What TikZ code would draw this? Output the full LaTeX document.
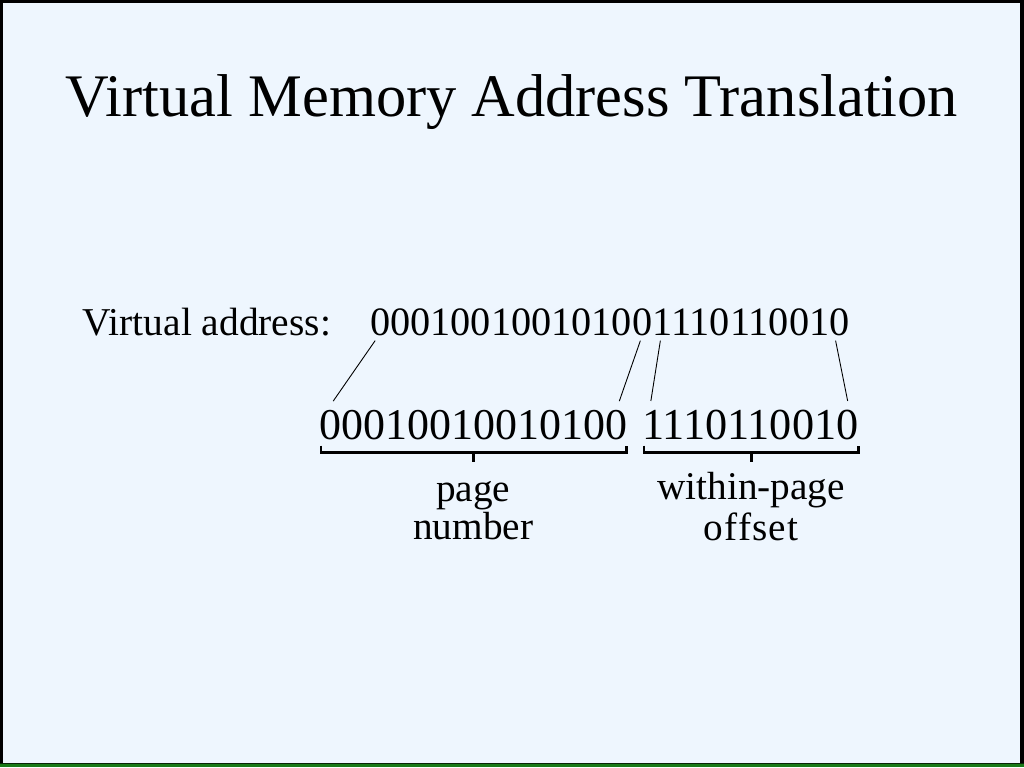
\documentclass[tikz,border=0pt]{standalone}
\usepackage{fontspec}
\setmainfont{Liberation Serif}
\usetikzlibrary{positioning,calc}
\definecolor{slidebg}{HTML}{EEF6FE}
\definecolor{slidegreen}{HTML}{187A18}
\tikzset{
  bits/.style={inner sep=0pt, anchor=base west},
  lbl/.style={inner sep=0pt, align=center, font=\fontsize{39.3}{38}\selectfont},
  wire/.style={line width=0.9pt},
  brace/.style={line width=2.6pt}
}

\begin{document}
\begin{tikzpicture}[x=1pt,y=-1pt]
% slide
\fill[black] (0,0) rectangle (1024,768);
\fill[slidebg] (3,3) rectangle (1020,764);
\fill[slidegreen] (0,764) rectangle (1024,768);
\draw[black!70!slidegreen, line width=1pt] (0,764.5) -- (1024,764.5);
\useasboundingbox (0,0) rectangle (1024,768);

\node[inner sep=0pt, anchor=base, font=\fontsize{60.5}{72}\selectfont] (title) at (512,117) {Virtual Memory Address Translation};

% virtual address
\node[bits, font=\fontsize{39.5}{40}\selectfont] (vlabel) at (82,336) {Virtual address:};
\node[bits, font=\fontsize{40.3}{40}\selectfont] (tpage) at (370,336) {00010010010100};
\node[bits, font=\fontsize{40.3}{40}\selectfont] (toff) at (tpage.base east) {1110110010};

% split address
\node[bits, font=\fontsize{44}{44}\selectfont] (bpage) at (319,440) {00010010010100};
\node[bits, font=\fontsize{44.3}{44}\selectfont] (boff) at (642,440) {1110110010};

\draw[wire] ($(tpage.base west)+(5,5)$) -- ($(bpage.north west)+(14,-9)$);
\draw[wire] ($(tpage.base east)+(-12,5)$) -- ($(bpage.north east)+(-8,-9)$);
\draw[wire] ($(toff.base west)+(8,5)$) -- ($(boff.north west)+(9,-9)$);
\draw[wire] ($(toff.base east)+(-14,5)$) -- ($(boff.north east)+(-11,-9)$);

% brackets
\draw[brace] ($(bpage.base west)+(2,6)$) -- ++(0,7) -| ($(bpage.base east)+(-1,6)$);
\draw[brace] ($(bpage.base)+(0,13)$) coordinate (pagetick) -- ++(0,9) coordinate (pagetip);
\draw[brace] ($(boff.base west)+(2,6)$) -- ++(0,7) -| ($(boff.base east)+(0,6)$);
\draw[brace] ($(boff.base)+(1,13)$) coordinate (offtick) -- ++(0,9) coordinate (offtip);

\node[lbl, below=20pt of pagetip] (pagelbl) {page\\number};
\node[lbl, below=11pt of offtip] (offlbl) {within-page\\[3pt]{\addfontfeature{LetterSpace=3}offset}};
\end{tikzpicture}
\end{document}
